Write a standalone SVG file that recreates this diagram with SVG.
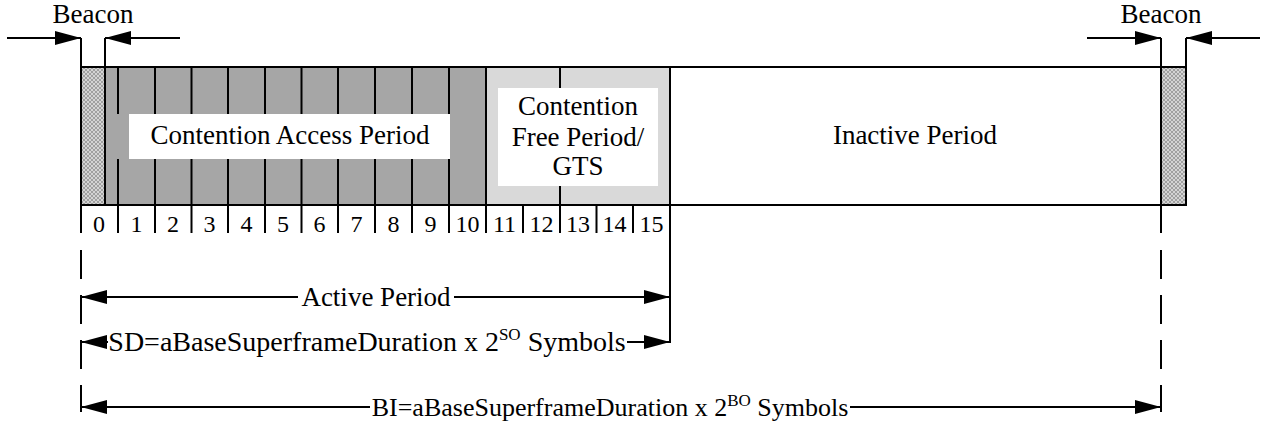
<svg xmlns="http://www.w3.org/2000/svg" width="1262" height="430" viewBox="0 0 1262 430" font-family="Liberation Serif, Times New Roman, DejaVu Serif, serif">
<style>
text{font-family:Liberation Serif, Times New Roman, DejaVu Serif, serif;fill:#000}
.lbl{font-size:27px;text-anchor:middle}
.num{font-size:24px;text-anchor:middle}
.sup{font-size:17px}
.ln{stroke:#000;stroke-width:2;fill:none}
.dash{stroke:#000;stroke-width:2;fill:none;stroke-dasharray:29 16}
.arr{stroke:#000;stroke-width:2;fill:none;marker-end:url(#ah)}
.cap{fill:#a6a6a6}
.cfp{fill:#d9d9d9}
.box{fill:#fff}
</style>
<defs>
<pattern id="hatch" width="4" height="4" patternUnits="userSpaceOnUse">
<rect width="4" height="4" fill="#d4d4d4"/>
<path d="M0,0 L4,4 M4,0 L0,4" stroke="#8a8a8a" stroke-width="0.7"/>
</pattern>
<marker id="ah" markerWidth="26" markerHeight="14" refX="26" refY="7" orient="auto" markerUnits="userSpaceOnUse">
<path d="M0,0 L26,7 L0,14 z" fill="#000"/>
</marker>
</defs>
<rect width="1262" height="430" fill="#fff"/>

<g id="beacon-left">
<rect x="81" y="67" width="24" height="138" fill="url(#hatch)"/>
<text class="lbl" x="93" y="23">Beacon</text>
</g>

<g id="cap">
<rect class="cap" x="105" y="67" width="381" height="138"/>
<rect class="box" x="129" y="114" width="321" height="45"/>
<text class="lbl" x="290" y="144">Contention Access Period</text>
</g>

<g id="cfp">
<rect class="cfp" x="486" y="67" width="184" height="138"/>
<rect class="box" x="498" y="88" width="160" height="98"/>
<text class="lbl" x="578" y="115">Contention</text>
<text class="lbl" x="578" y="146">Free Period/</text>
<text class="lbl" x="578" y="175">GTS</text>
</g>

<g id="inactive">
<text class="lbl" x="915" y="144">Inactive Period</text>
</g>

<g id="beacon-right">
<rect x="1161" y="67" width="25" height="138" fill="url(#hatch)"/>
<text class="lbl" x="1161" y="23">Beacon</text>
</g>

<g id="frame">
<path class="ln" d="M81,67 H1186 V205 H81 M81,205 H1161 M105,67 V205"/>
<path class="ln" d="M118,67 V114 M155,67 V114 M191.5,67 V114 M228,67 V114 M265,67 V114 M301.5,67 V114 M338,67 V114 M375,67 V114 M412,67 V114 M449,67 V114 M486,67 V205 M560,67 V88 M670,67 V205"/>
<path class="ln" d="M118,159 V205 M155,159 V205 M191.5,159 V205 M228,159 V205 M265,159 V205 M301.5,159 V205 M338,159 V205 M375,159 V205 M412,159 V205 M449,159 V205 M560,186 V205"/>
</g>

<g id="slots">
<path class="ln" d="M118,205 V233 M155,205 V233 M191.5,205 V233 M228,205 V233 M265,205 V233 M301.5,205 V233 M338,205 V233 M375,205 V233 M412,205 V233 M449,205 V233 M486,205 V233 M523,205 V233 M560,205 V233 M596.5,205 V233 M633,205 V233"/>
<text class="num" x="99" y="232">0</text>
<text class="num" x="136.5" y="232">1</text>
<text class="num" x="173" y="232">2</text>
<text class="num" x="209.5" y="232">3</text>
<text class="num" x="246.5" y="232">4</text>
<text class="num" x="283" y="232">5</text>
<text class="num" x="319.5" y="232">6</text>
<text class="num" x="356.5" y="232">7</text>
<text class="num" x="393.5" y="232">8</text>
<text class="num" x="430.5" y="232">9</text>
<text class="num" x="467.5" y="232">10</text>
<text class="num" x="504.5" y="232">11</text>
<text class="num" x="541.5" y="232">12</text>
<text class="num" x="578" y="232">13</text>
<text class="num" x="614.5" y="232">14</text>
<text class="num" x="651.5" y="232">15</text>
</g>

<g id="connectors">
<path class="ln" d="M81,38 V233 M105,38 V67 M1161,38 V233 M1186,38 V67 M670,205 V343"/>
<path class="dash" d="M81,250 V412 M1161,250 V412"/>
<line class="arr" x1="7" y1="38" x2="81" y2="38"/>
<line class="arr" x1="180" y1="38" x2="105" y2="38"/>
<line class="arr" x1="1087" y1="38" x2="1161" y2="38"/>
<line class="arr" x1="1260" y1="38" x2="1186" y2="38"/>
<line class="arr" x1="298" y1="297" x2="81" y2="297"/>
<line class="arr" x1="454" y1="297" x2="670" y2="297"/>
<line class="arr" x1="108" y1="342" x2="81" y2="342"/>
<line class="arr" x1="627" y1="342" x2="670" y2="342"/>
<line class="arr" x1="370" y1="407" x2="81" y2="407"/>
<line class="arr" x1="850" y1="407" x2="1161" y2="407"/>
<text class="lbl" x="376" y="306">Active Period</text>
<text class="lbl" x="367" y="351" style="font-size:28px">SD=aBaseSuperframeDuration x 2<tspan class="sup" dy="-11">SO</tspan><tspan dy="11"> Symbols</tspan></text>
<text class="lbl" x="610" y="416" style="font-size:26px">BI=aBaseSuperframeDuration x 2<tspan class="sup" dy="-10">BO</tspan><tspan dy="10"> Symbols</tspan></text>
</g>
</svg>
